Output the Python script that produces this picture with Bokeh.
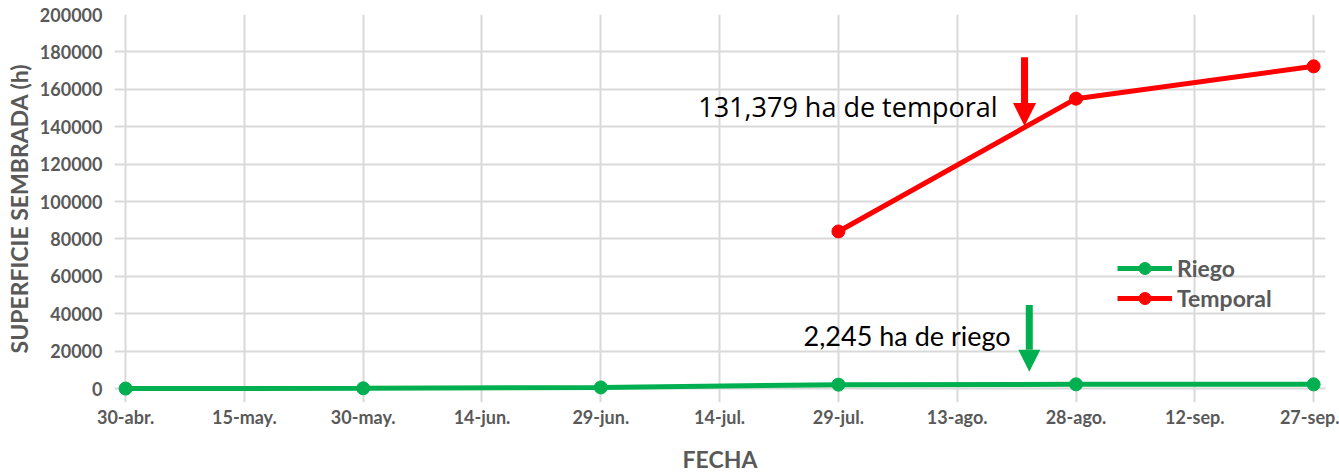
import pandas as pd
from bokeh.plotting import figure
from bokeh.models import (FixedTicker, Legend, LegendItem, Label, Arrow,
                          NormalHead, ColumnDataSource, Range1d)
from bokeh.embed import file_html
from bokeh.resources import INLINE

# ---------------- data ----------------
riego_dates = ["2020-04-30", "2020-05-30", "2020-06-29", "2020-07-29", "2020-08-28", "2020-09-27"]
riego_values = [0, 150, 600, 2100, 2245, 2245]
temporal_dates = ["2020-07-29", "2020-08-28", "2020-09-27"]
temporal_values = [84000, 155000, 172300]
tick_labels = ["30-abr.", "15-may.", "30-may.", "14-jun.", "29-jun.", "14-jul.",
               "29-jul.", "13-ago.", "28-ago.", "12-sep.", "27-sep."]
y_ticks = list(range(0, 200001, 20000))
start = pd.Timestamp("2020-04-30")
tick_step_days = 15

temporal_note = "131,379 ha de temporal"
riego_note = "2,245 ha de riego"


def to_days(ds):
    return [(pd.Timestamp(d) - start).days for d in ds]


GREEN = "#00b050"
RED = "#ff0000"
GREY = "#595959"
GRID = "#d9d9d9"

p = figure(width=1339, height=475, output_backend="svg", toolbar_location=None,
           x_range=Range1d(-1.4, 151.5), y_range=Range1d(-7450, 200000),
           min_border_left=114, min_border_right=14, min_border_top=14,
           min_border_bottom=71)
p.outline_line_color = None

x_ticks = [i * tick_step_days for i in range(len(tick_labels))]
p.xaxis.ticker = FixedTicker(ticks=x_ticks)
p.xaxis.major_label_overrides = {t: l for t, l in zip(x_ticks, tick_labels)}
p.yaxis.ticker = FixedTicker(ticks=y_ticks)
p.xgrid.ticker = FixedTicker(ticks=x_ticks)
p.ygrid.ticker = FixedTicker(ticks=y_ticks)
p.yaxis.formatter.use_scientific = False

for ax in (p.xaxis, p.yaxis):
    ax.axis_line_color = None
    ax.major_tick_line_color = None
    ax.minor_tick_line_color = None
    ax.major_tick_out = 0
    ax.major_tick_in = 0
    ax.minor_tick_out = 0
    ax.minor_tick_in = 0
    ax.major_label_text_font = "Lato"
    ax.major_label_text_font_style = "bold"
    ax.major_label_text_font_size = "18px"
    ax.major_label_text_color = GREY
    ax.axis_label_text_font = "Lato"
    ax.axis_label_text_font_style = "bold"
    ax.axis_label_text_font_size = "23px"
    ax.axis_label_text_color = GREY

p.xaxis.axis_label = "FECHA"
p.yaxis.axis_label = "SUPERFICIE SEMBRADA (h)"
p.xaxis.major_label_standoff = 3
p.yaxis.major_label_standoff = 12
p.xaxis.axis_label_standoff = 14
p.yaxis.axis_label_standoff = 4

for g in (p.xgrid, p.ygrid):
    g.grid_line_color = GRID
    g.grid_line_width = 2

src_r = ColumnDataSource(dict(x=to_days(riego_dates), y=riego_values))
src_t = ColumnDataSource(dict(x=to_days(temporal_dates), y=temporal_values))

lr = p.line("x", "y", source=src_r, line_color=GREEN, line_width=5)
sr = p.scatter("x", "y", source=src_r, size=13, fill_color=GREEN, line_color=GREEN)
lt = p.line("x", "y", source=src_t, line_color=RED, line_width=5)
st = p.scatter("x", "y", source=src_t, size=13, fill_color=RED, line_color=RED)

legend = Legend(items=[LegendItem(label="Riego", renderers=[lr, sr]),
                       LegendItem(label="Temporal", renderers=[lt, st])],
                location=(1003, 89), padding=0, margin=0, spacing=0,
                glyph_width=55, glyph_height=30, label_height=30, label_standoff=5,
                background_fill_alpha=0, border_line_color=None,
                label_text_font="Lato", label_text_font_style="bold",
                label_text_font_size="23px", label_text_color=GREY)
p.add_layout(legend, "center")

p.add_layout(Arrow(end=NormalHead(size=23, fill_color=RED, line_color=RED, line_width=0),
                   x_start=113.5, y_start=177100, x_end=113.5, y_end=140400,
                   line_color=RED, line_width=7))
p.add_layout(Arrow(end=NormalHead(size=22, fill_color=GREEN, line_color=GREEN, line_width=0),
                   x_start=114.1, y_start=44700, x_end=114.1, y_end=9000,
                   line_color=GREEN, line_width=7))

p.add_layout(Label(x=72.3, y=151000, text=temporal_note, text_baseline="middle",
                   text_font="Open Sans", text_font_size="27px", text_color="black"))
p.add_layout(Label(x=85.6, y=28200, text=riego_note, text_baseline="middle",
                   text_font="Lato", text_font_size="27px", text_color="black"))

open("out.html", "w").write(file_html(p, INLINE))
